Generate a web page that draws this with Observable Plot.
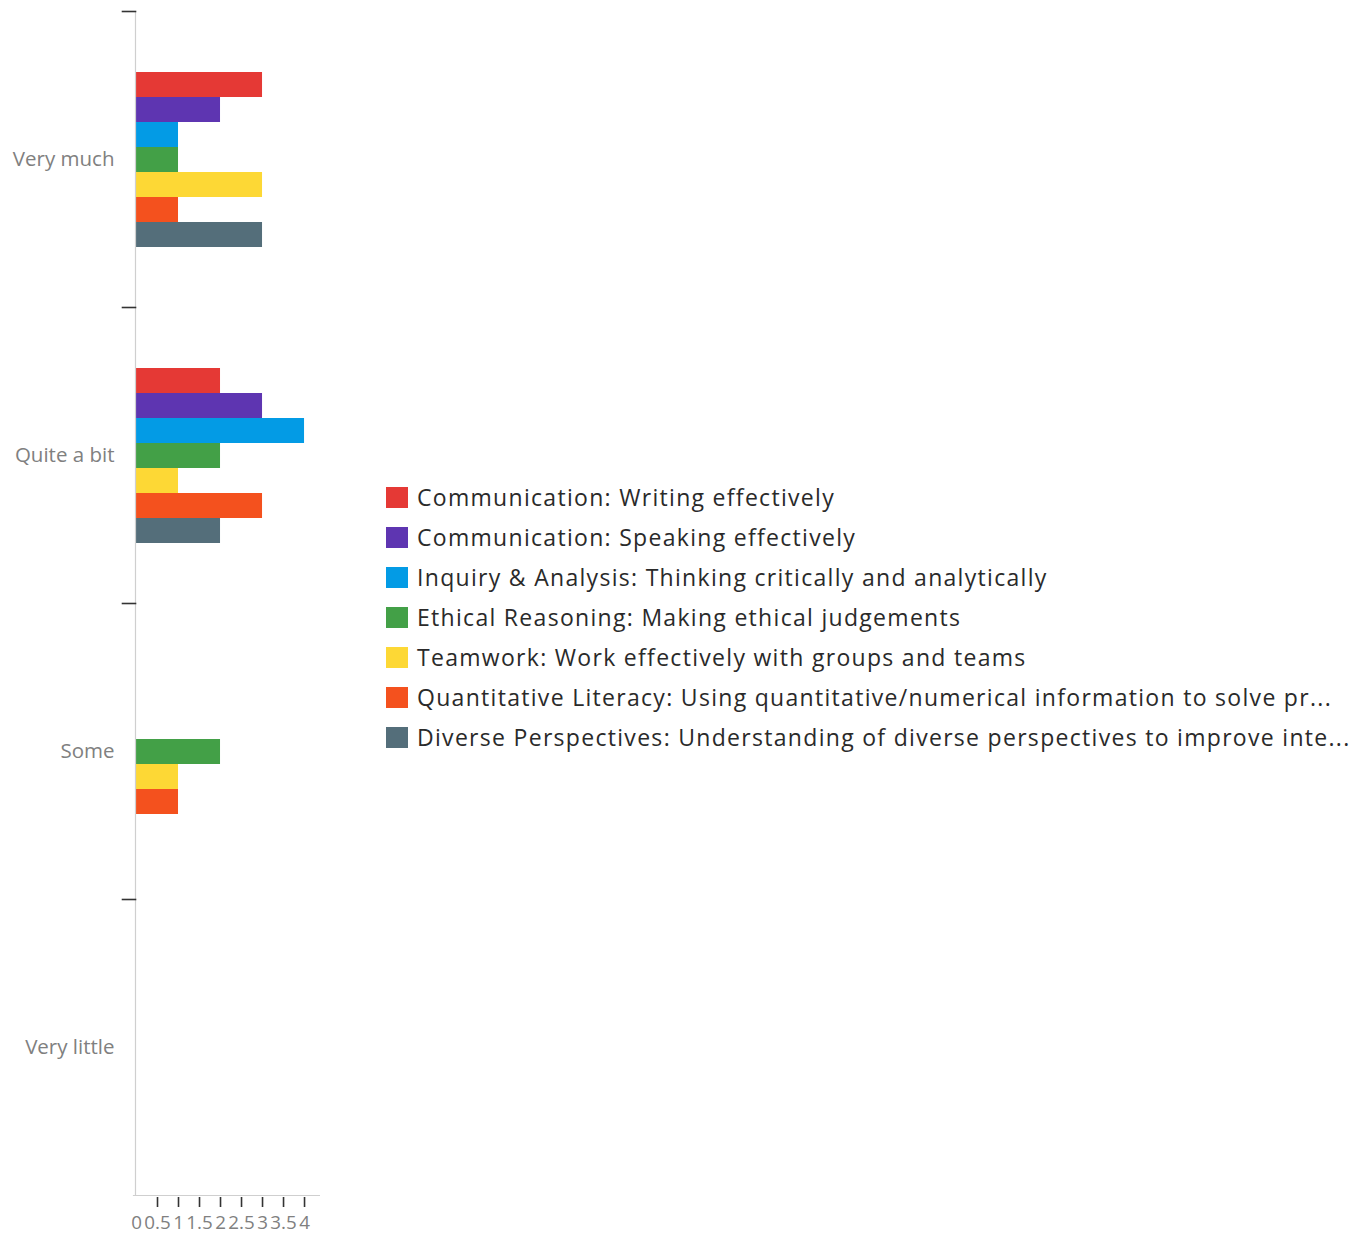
<!DOCTYPE html>
<html>
<head>
<meta charset="utf-8">
<script src="https://cdn.jsdelivr.net/npm/d3@7"></script>
<script src="https://cdn.jsdelivr.net/npm/@observablehq/plot@0.6"></script>
<style>
  html, body { margin: 0; padding: 0; background: #fff; }
  #wrap { display: flex; flex-direction: row; align-items: center; width: 1361px; height: 1234px; }
  #legend { margin-left: 66px; font-family: "Open Sans", Inter, sans-serif; font-size: 23px; letter-spacing: 1.3px; color: #2a2a2a; }
  .row { display: flex; align-items: center; height: 40px; white-space: nowrap; }
  .sw { width: 22px; height: 21px; margin-right: 9px; flex: none; }
</style>
</head>
<body>
<div id="wrap"><div id="chart"></div><div id="legend"></div></div>
<script>
const categories = ["Very much", "Quite a bit", "Some", "Very little"];
const series = [
  "Communication: Writing effectively",
  "Communication: Speaking effectively",
  "Inquiry & Analysis: Thinking critically and analytically",
  "Ethical Reasoning: Making ethical judgements",
  "Teamwork: Work effectively with groups and teams",
  "Quantitative Literacy: Using quantitative/numerical information to solve pr...",
  "Diverse Perspectives: Understanding of diverse perspectives to improve inte..."
];
const colors = ["#e53935", "#5e35b1", "#039be5", "#43a047", "#fdd835", "#f4511e", "#546e7a"];
// values per series, in category order
const writing   = [3, 2, 0, 0];
const speaking  = [2, 3, 0, 0];
const inquiry   = [1, 4, 0, 0];
const ethical   = [1, 2, 2, 0];
const teamwork  = [3, 1, 1, 0];
const quant     = [1, 3, 1, 0];
const diverse   = [3, 2, 0, 0];
const xTicks = [0, 0.5, 1, 1.5, 2, 2.5, 3, 3.5, 4];

const valuesBySeries = [writing, speaking, inquiry, ethical, teamwork, quant, diverse];
const data = [];
categories.forEach((c, ci) => series.forEach((s, si) => data.push({category: c, series: s, value: valuesBySeries[si][ci]})));

const font = "'Open Sans', Inter, sans-serif";
const chart = Plot.plot({
  width: 320,
  height: 1234,
  marginTop: 10,
  marginBottom: 39,
  marginLeft: 136,
  marginRight: 0,
  style: {fontFamily: font, background: "#fff"},
  x: {domain: [0, 4.38], axis: null},
  y: {domain: series, paddingInner: 0, paddingOuter: 2.28, axis: null},
  fy: {domain: categories, padding: 0, axis: null},
  color: {domain: series, range: colors},
  marks: [
    Plot.barX(data, {x: "value", y: "series", fy: "category", fill: "series"}),
    Plot.ruleX([0], {stroke: "#cfcfcf", strokeWidth: 1.2, dx: -1}),
    Plot.frame({anchor: "top", stroke: "#333", strokeWidth: 1.6, insetLeft: -14, insetRight: 185}),
    Plot.frame({anchor: "bottom", fy: () => categories[categories.length - 1], stroke: "#cfcfcf", strokeWidth: 1.2, insetLeft: -3}),
    Plot.axisFy({anchor: "left", tickSize: 0, tickPadding: 22, fontSize: 20.5, fill: "#808080", color: "#808080", label: null, style: {letterSpacing: "0.7px"}}),
    Plot.axisX({ticks: xTicks.slice(1), tickSize: 10, dy: 2, tickFormat: () => "", stroke: "#333", strokeWidth: 1.6, label: null}),
    Plot.axisX({ticks: xTicks, tickSize: 0, tickPadding: 20, fontSize: 18.8, fill: "#808080", tickFormat: d => String(d), label: null})
  ]
});
document.getElementById("chart").appendChild(chart);

const legend = document.getElementById("legend");
series.forEach((s, i) => {
  const row = document.createElement("div");
  row.className = "row";
  const sw = document.createElement("span");
  sw.className = "sw";
  sw.style.background = colors[i];
  const t = document.createElement("span");
  t.textContent = s;
  row.appendChild(sw);
  row.appendChild(t);
  legend.appendChild(row);
});
</script>
</body>
</html>
